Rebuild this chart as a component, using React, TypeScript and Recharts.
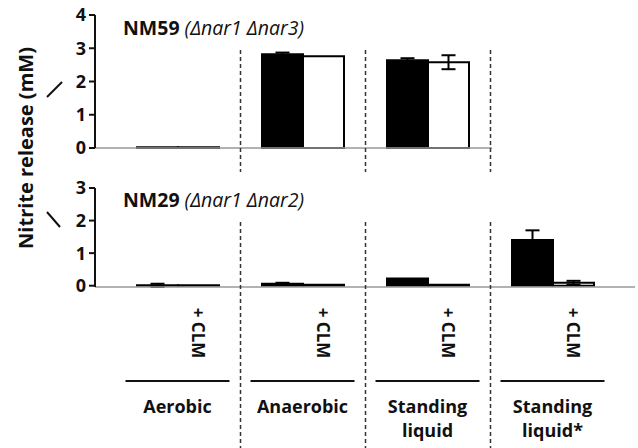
import React from 'react';
import { BarChart, Bar, XAxis, YAxis, ErrorBar } from 'recharts';

// conditions, NM29 uses all four, NM59 only the first three
const categories = ['Aerobic', 'Anaerobic', 'Standing liquid', 'Standing liquid*'];

// NM59 (Δnar1 Δnar3), mM
const nm59Ctrl = [0.02, 2.82, 2.64];
const nm59CtrlErr = [0, 0.05, 0.06];
const nm59Clm = [0.02, 2.76, 2.58];
const nm59ClmErr = [0, 0, 0.21];

// NM29 (Δnar1 Δnar2), mM
const nm29Ctrl = [0.01, 0.06, 0.22, 1.4];
const nm29CtrlErr = [0.05, 0.03, 0, 0.3];
const nm29Clm = [0.01, 0.03, 0.03, 0.09];
const nm29ClmErr = [0, 0, 0, 0.06];

const topTicks = [0, 1, 2, 3, 4];
const bottomTicks = [0, 1, 2, 3];

const FONT = '"Open Sans", "Liberation Sans", sans-serif';
const INK = '#111';

const topData = categories.slice(0, 3).map((name, i) => ({
  name,
  ctrl: nm59Ctrl[i],
  ctrlErr: nm59CtrlErr[i],
  clm: nm59Clm[i],
  clmErr: nm59ClmErr[i],
}));

const bottomData = categories.map((name, i) => ({
  name,
  ctrl: nm29Ctrl[i],
  ctrlErr: nm29CtrlErr[i],
  clm: nm29Clm[i],
  clmErr: nm29ClmErr[i],
}));

const yTick = { fill: INK, fontSize: 18, fontWeight: 700, fontFamily: FONT };

// dashed separator to the right of a group (top panel)
function TopTick(props: any) {
  const { x, y, index } = props;
  if (index > 2) return null;
  return (
    <line
      x1={x + 63}
      x2={x + 63}
      y1={y - 98}
      y2={y + 24}
      stroke="#333"
      strokeWidth={1.5}
      strokeDasharray="4 3"
    />
  );
}

// "+ CLM" label, group rule, condition name and separator (bottom panel)
function BottomTick(props: any) {
  const { x, y, index, payload } = props;
  const words = String(payload.value).split(' ');
  return (
    <g fontFamily={FONT} fontWeight={700} fill={INK}>
      {index < 3 && (
        <line
          x1={x + 63}
          x2={x + 63}
          y1={y - 65}
          y2={y + 161}
          stroke="#333"
          strokeWidth={1.5}
          strokeDasharray="4 3"
        />
      )}
      <text
        x={x + 21}
        y={y + 46}
        fontSize={17}
        textAnchor="middle"
        dominantBaseline="central"
        transform={`rotate(90, ${x + 21}, ${y + 46})`}
      >
        + CLM
      </text>
      <line x1={x - 52} x2={x + 52} y1={y + 94} y2={y + 94} stroke={INK} strokeWidth={2} />
      {words.map((w, i) => (
        <text key={w} x={x} y={y + 126 + i * 24} fontSize={18} textAnchor="middle">
          {w}
        </text>
      ))}
    </g>
  );
}

function Bars() {
  return [
    <Bar key="c" dataKey="ctrl" fill="#000" stroke="#000" strokeWidth={2} barSize={41} isAnimationActive={false}>
      <ErrorBar dataKey="ctrlErr" width={7} stroke="#000" strokeWidth={2} isAnimationActive={false} />
    </Bar>,
    <Bar key="w" dataKey="clm" fill="#fff" stroke="#000" strokeWidth={2} barSize={41} isAnimationActive={false}>
      <ErrorBar dataKey="clmErr" width={7} stroke="#000" strokeWidth={2} isAnimationActive={false} />
    </Bar>,
  ];
}

export default function App() {
  return (
    <div style={{ position: 'absolute', left: 0, top: 0, width: 638, height: 448, background: '#fff', overflow: 'hidden' }}>
      <div style={{ position: 'absolute', left: 0, top: 0 }}>
        <BarChart width={638} height={180} data={topData} barGap={0} margin={{ top: 15, right: 146, left: 65, bottom: 0 }}>
          <XAxis
            dataKey="name"
            height={32}
            interval={0}
            padding={{ left: 20, right: 2 }}
            axisLine={{ stroke: '#999', strokeWidth: 1.5 }}
            tickLine={false}
            tickSize={0}
            tickMargin={0}
            tick={(p: any) => <TopTick {...p} />}
          />
          <YAxis
            width={30}
            domain={[0, 4]}
            ticks={topTicks}
            interval={0}
            tick={yTick}
            tickSize={6}
            tickMargin={3}
            axisLine={{ stroke: INK, strokeWidth: 2 }}
            tickLine={{ stroke: INK, strokeWidth: 2 }}
          />
          {Bars()}
        </BarChart>
      </div>
      <div style={{ position: 'absolute', left: 0, top: 160 }}>
        <BarChart width={638} height={288} data={bottomData} barGap={0} margin={{ top: 28, right: 3, left: 65, bottom: 0 }}>
          <XAxis
            dataKey="name"
            height={161}
            interval={0}
            padding={{ left: 20, right: 20 }}
            axisLine={{ stroke: '#999', strokeWidth: 1.5 }}
            tickLine={false}
            tickSize={0}
            tickMargin={0}
            tick={(p: any) => <BottomTick {...p} />}
          />
          <YAxis
            width={30}
            domain={[0, 3]}
            ticks={bottomTicks}
            interval={0}
            tick={yTick}
            tickSize={6}
            tickMargin={3}
            axisLine={{ stroke: INK, strokeWidth: 2 }}
            tickLine={{ stroke: INK, strokeWidth: 2 }}
          />
          {Bars()}
        </BarChart>
      </div>
      <svg
        width={638}
        height={448}
        style={{ position: 'absolute', left: 0, top: 0, pointerEvents: 'none' }}
        fontFamily={FONT}
      >
        <text
          x={25}
          y={148}
          fontSize={20}
          fontWeight={700}
          fill={INK}
          textAnchor="middle"
          dominantBaseline="central"
          transform="rotate(-90, 25, 148)"
        >
          Nitrite release (mM)
        </text>
        <line x1={47} y1={97} x2={62} y2={82} stroke={INK} strokeWidth={2} />
        <line x1={47} y1={212} x2={60} y2={227} stroke={INK} strokeWidth={2} />
        <text x={123} y={35} fontSize={19.5} fill={INK}>
          <tspan fontWeight={700}>NM59 </tspan>
          <tspan fontStyle="italic">(Δnar1 Δnar3)</tspan>
        </text>
        <text x={123} y={207} fontSize={19.5} fill={INK}>
          <tspan fontWeight={700}>NM29 </tspan>
          <tspan fontStyle="italic">(Δnar1 Δnar2)</tspan>
        </text>
      </svg>
    </div>
  );
}
